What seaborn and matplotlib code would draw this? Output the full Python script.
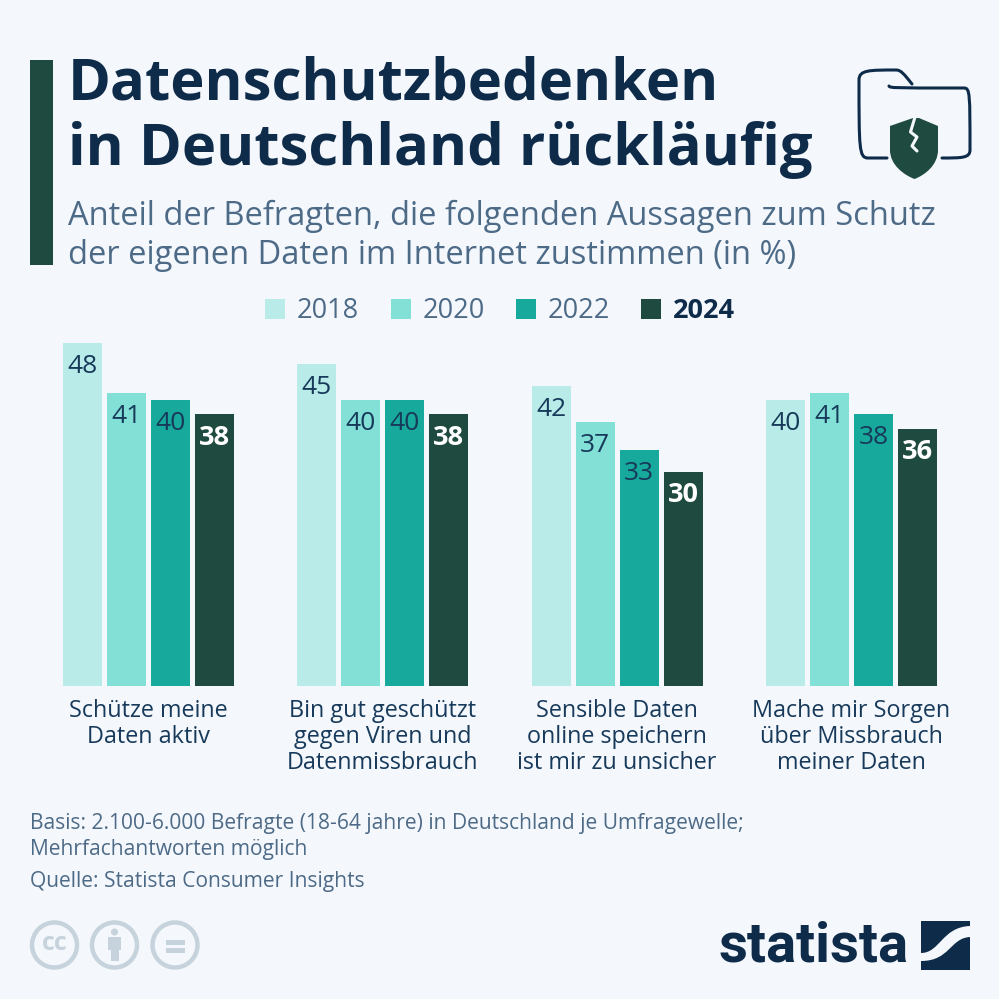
import matplotlib
matplotlib.use("Agg")
import matplotlib.pyplot as plt
from matplotlib.patches import Rectangle, Circle, PathPatch
from matplotlib.path import Path
import seaborn as sns
import pandas as pd

categories = ["Schütze meine\nDaten aktiv", "Bin gut geschützt\ngegen Viren und\nDatenmissbrauch",
              "Sensible Daten\nonline speichern\nist mir zu unsicher", "Mache mir Sorgen\nüber Missbrauch\nmeiner Daten"]
years = ["2018", "2020", "2022", "2024"]
v2018 = [48, 45, 42, 40]
v2020 = [41, 40, 37, 41]
v2022 = [40, 40, 33, 38]
v2024 = [38, 38, 30, 36]
colors = ["#b9ece8", "#82e0d6", "#17a99b", "#1f4a40"]
BG = "#f4f8fc"; NAVY = "#0f2b4a"; SLATE = "#4d6a87"

sns.set_theme(style="white")
plt.rcParams['font.family'] = ['Open Sans', 'DejaVu Sans']
fig = plt.figure(figsize=(9.99, 9.99), dpi=100, facecolor=BG)
S = 999.0
def T(x, y, s, **k):
    return fig.text(x/S, 1-y/S, s, **k)

df = pd.DataFrame({"cat": categories*4, "year": sum([[y]*4 for y in years], []),
                   "val": v2018+v2020+v2022+v2024})
ax = fig.add_axes([0, 1-686/S, 1, (686-343)/S], facecolor="none")
sns.barplot(data=df, x="cat", y="val", hue="year", palette=colors, ax=ax, legend=False,
            saturation=1, gap=0.0, width=0.8, order=categories, hue_order=years)
ax.set_ylim(0, 48)
u = 234.33
ax.set_xlim(-148/u, (S-148)/u)
w = 39/u
for yi, cont in enumerate(ax.containers):
    for i, r in enumerate(cont):
        r.set_width(w)
        r.set_x(i + (-85 + yi*44)/u)
        r.set_edgecolor("none")
        h = r.get_height()
        last = yi == 3
        ax.annotate(f"{h:.0f}", (r.get_x()+w/2, h), xytext=(0, -23.5), textcoords="offset pixels",
                    ha="center", va="center", fontsize=19 if not last else 19.5,
                    fontweight="bold" if last else "normal",
                    color="white" if last else "#17395a")
sns.despine(ax=ax, left=True, bottom=True)
ax.set_xlabel(""); ax.set_ylabel(""); ax.set_yticks([])
ax.set_xticks([])
for i, c in enumerate(categories):
    for j, line in enumerate(c.split("\n")):
        T(148.3+i*u, 711+j*26, line, ha="center", va="center", fontsize=16.8, color="#17395a")

fig.add_artist(Rectangle((30/S, 1-265/S), 23/S, 205/S, transform=fig.transFigure, color=colors[3], lw=0))
T(68, 85, "Datenschutzbedenken", fontsize=41.8, fontweight="bold", color=NAVY, va="center")
T(68, 150, "in Deutschland rückläufig", fontsize=41.8, fontweight="bold", color=NAVY, va="center")
T(68, 216, "Anteil der Befragten, die folgenden Aussagen zum Schutz", fontsize=23.5, color=SLATE, va="center")
T(68, 256, "der eigenen Daten im Internet zustimmen (in %)", fontsize=23.5, color=SLATE, va="center")

for x, y, c in zip([265, 391, 516, 641], years, colors):
    fig.add_artist(Rectangle((x/S, 1-319/S), 20/S, 20/S, transform=fig.transFigure, color=c, lw=0))
    last = y == "2024"
    T(x+32, 311, y, fontsize=19.5, va="center", color=NAVY if last else SLATE,
      fontweight="bold" if last else "normal")

T(30, 823, "Basis: 2.100-6.000 Befragte (18-64 jahre) in Deutschland je Umfragewelle;", fontsize=15.1, color=SLATE, va="center")
T(30, 849, "Mehrfachantworten möglich", fontsize=15.1, color=SLATE, va="center")
T(30, 881, "Quelle: Statista Consumer Insights", fontsize=15.1, color=SLATE, va="center")

ov = fig.add_axes([0, 0, 1, 1], facecolor="none")
ov.set_xlim(0, S); ov.set_ylim(S, 0); ov.axis("off")
ICON = "#c6d2dc"
for cx in [54.5, 114.5, 175]:
    ov.add_patch(Circle((cx, 945), 22.5, fc="none", ec=ICON, lw=3.2))
ov.text(54.5, 944, "cc", ha="center", va="center", fontsize=18, fontweight="bold", color=ICON)
ov.add_patch(Circle((114.5, 932), 3.5, fc=ICON, ec="none"))
ov.add_patch(Rectangle((108, 937), 13, 13, fc=ICON, ec="none"))
ov.add_patch(Rectangle((110.5, 950), 8, 11, fc=ICON, ec="none"))
ov.add_patch(Rectangle((165.5, 939.5), 19, 5, fc=ICON, ec="none"))
ov.add_patch(Rectangle((165.5, 947.5), 19, 5, fc=ICON, ec="none"))

ov.text(813.5, 947, "statista", ha="center", va="center", fontsize=40.5, fontweight="bold",
        color=NAVY, family="Roboto")
ov.add_patch(Rectangle((921, 921), 49, 49, fc=NAVY, ec="none"))
C3 = Path.CURVE4; L = Path.LINETO; M = Path.MOVETO
band = Path([(921, 953), (940, 953), (942, 927), (970, 926), (970, 937), (950, 938), (950, 961), (921, 961), (921, 953)],
            [M, C3, C3, C3, L, C3, C3, C3, Path.CLOSEPOLY])
ov.add_patch(PathPatch(band, fc=BG, ec="none"))

LW = 2.2
p1 = Path([(889, 86), (890, 88), (892, 88), (964, 88), (970, 88), (970, 94), (970, 150), (970, 158), (962, 158), (942, 158)],
          [M, C3, C3, L, C3, C3, L, C3, C3, L])
p2 = Path([(887, 158), (868, 158), (859, 158), (859, 148), (859, 80), (859, 70), (869, 70), (896, 70), (901, 70), (904, 74), (912, 84)],
          [M, L, C3, C3, L, C3, C3, L, C3, C3, L])
for p in (p1, p2):
    ov.add_patch(PathPatch(p, fc="none", ec=NAVY, lw=LW, capstyle="round"))
sh = Path([(890, 126), (913, 118), (919, 118), (938, 126), (938, 150), (938, 165), (925, 175), (914.5, 179),
           (904, 175), (890, 165), (890, 150), (890, 126)],
          [M, L, L, L, L, C3, C3, C3, C3, C3, C3, Path.CLOSEPOLY])
ov.add_patch(PathPatch(sh, fc=colors[3], ec="none"))
ov.plot([915, 910.5, 917, 912, 917], [117, 132, 137, 146, 151], color=BG, lw=2.2, solid_joinstyle="round")
fig.savefig("out.png", dpi=100, facecolor=BG)
